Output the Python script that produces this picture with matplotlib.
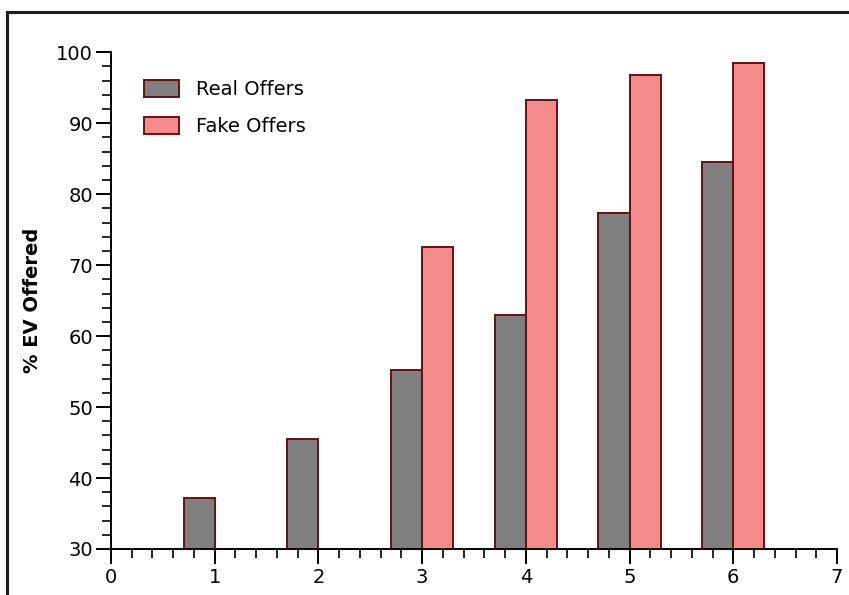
import matplotlib
matplotlib.use('Agg')
import matplotlib.pyplot as plt
from matplotlib.lines import Line2D
from matplotlib.patches import Patch
from matplotlib.ticker import MultipleLocator

# data
x_real = [1, 2, 3, 4, 5, 6]
real_offers = [37.2, 45.5, 55.2, 63.0, 77.4, 84.5]
x_fake = [3, 4, 5, 6]
fake_offers = [72.6, 93.3, 96.8, 98.5]
labels = ['Real Offers', 'Fake Offers']

grey = '#808080'
pink = '#f48a8a'
edge = '#6a0f0f'

plt.rcParams['font.family'] = ['DejaVu Sans']

fig = plt.figure(figsize=(8.49, 5.95), dpi=100)
ax = fig.add_axes([111 / 849, 1 - 549 / 595, (837 - 111) / 849, (549 - 52.3) / 595])

ax.bar(x_real, real_offers, width=-0.3, align='edge', color=grey,
       edgecolor=edge, linewidth=1.4)
ax.bar(x_fake, fake_offers, width=0.3, align='edge', color=pink,
       edgecolor=edge, linewidth=1.4)

ax.set_xlim(0, 7)
ax.set_ylim(30, 100)
ax.xaxis.set_major_locator(MultipleLocator(1))
ax.xaxis.set_minor_locator(MultipleLocator(0.2))
ax.yaxis.set_major_locator(MultipleLocator(10))
ax.yaxis.set_minor_locator(MultipleLocator(2))

for s in ['top', 'right']:
    ax.spines[s].set_visible(False)
for s in ['left', 'bottom']:
    ax.spines[s].set_linewidth(1.4)

ax.tick_params(which='major', direction='out', length=11, width=1.4, labelsize=14, pad=2)
ax.tick_params(which='minor', direction='out', length=6.5, width=1.2)
ax.tick_params(axis='x', which='major', pad=3)

ax.set_ylabel('% EV Offered', fontsize=14, fontweight='bold', labelpad=10)

handles = [Patch(facecolor=grey, edgecolor=edge, linewidth=1.4),
           Patch(facecolor=pink, edgecolor=edge, linewidth=1.4)]
ax.legend(handles, labels, loc='upper left', bbox_to_anchor=(0.022, 0.98),
          frameon=False, fontsize=14, handlelength=1.8, handleheight=0.95,
          handletextpad=0.85, labelspacing=0.95)

# figure frame (left and top edges)
fig.add_artist(Line2D([7 / 849, 7 / 849], [0, 1 - 12 / 595], color='#1e1e1e', lw=2.2))
fig.add_artist(Line2D([7 / 849, 1], [1 - 12 / 595, 1 - 12 / 595], color='#1e1e1e', lw=2.2))

fig.savefig('out.png', dpi=100)
